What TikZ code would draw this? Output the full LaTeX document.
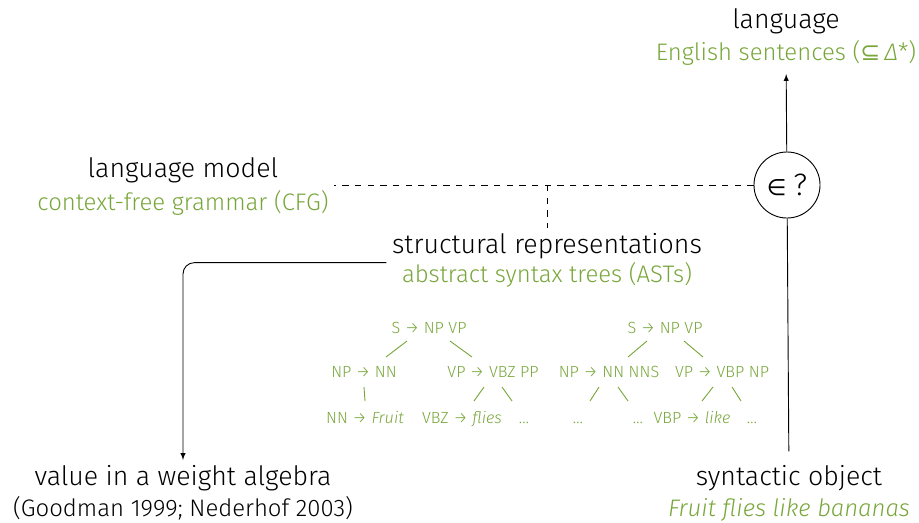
\documentclass[tikz,border=0pt]{standalone}
\usepackage{fontspec}
\setmainfont{Fira Sans Light}[ItalicFont={Fira Sans Light Italic}]
\newfontfamily\symbfont{DejaVu Sans}
\usetikzlibrary{calc,positioning}
\definecolor{cfggreen}{RGB}{120,166,58}

\begin{document}
\begin{tikzpicture}
[x=0.025cm,y=-0.025cm,>=latex,
  headdecorate/.style={anchor=base,font=\fontsize{19}{23}\selectfont},%
  subdecorate/.style={anchor=base,font=\fontsize{17}{21}\selectfont},%
  greendecorate/.style={subdecorate,text=cfggreen},%
  treedecorate/.style={anchor=base,inner sep=0pt,text=cfggreen,font=\fontsize{11.5}{14}\selectfont},%
  linedecorate/.style={line width=0.65pt},%
  dashdecorate/.style={line width=0.65pt,dash pattern=on 4.5pt off 4.5pt},%
  edgedecorate/.style={draw=cfggreen,line width=0.65pt}]
\useasboundingbox (0,0) rectangle (919,522);
%% labels, one node per line
\foreach \nodename/\x/\y/\kind/\label in {
  lang/786/28.5/head/{language},
  langsub/786/60/green/{English sentences ({\symbfont ⊆}\,\textit{Δ}*)},
  model/183/177.5/head/{language model},
  modelsub/183/210/green/{context-free grammar (CFG)},
  repr/547/253.5/head/{structural representations},
  reprsub/547/282.5/green/{abstract syntax trees (ASTs)},
  value/183/485/head/{value in a weight algebra},
  valuesub/183/516/sub/{(Goodman 1999; Nederhof 2003)},
  object/789/485/head/{syntactic object},
  objectsub/789/516/green/{\itshape Fruit flies like bananas}}
{
  \node[\kind decorate] (\nodename) at (\x,\y) {\label};
}
\node[draw,circle,line width=0.65pt,minimum size=1.65cm,inner sep=0pt]
  (member) at (787,185) {{\symbfont\fontsize{16}{16}\selectfont ∈}\hspace{5pt}{\fontsize{22}{22}\selectfont ?}};
%% the two trees
\foreach \nodename/\x/\y/\rule in {
  s1/429/333/{S → NP VP}, np1/364/377/{NP → NN}, vp1/493/377/{VP → VBZ PP},
  nn1/365/423/{NN → \textit{Fruit}}, vbz1/462/423/{VBZ → \textit{flies}},
  dots1/524/423/{…},
  s2/665/333/{S → NP VP}, np2/609/377/{NP → NN NNS}, vp2/722/377/{VP → VBP NP},
  dots2/578/423/{…}, dots3/638/423/{…}, vbp2/692/423/{VBP → \textit{like}},
  dots4/752/423/{…}}
{
  \node[treedecorate] (\nodename) at (\x,\y) {\rule};
}
\foreach \startnode/\sx/\sy/\endnode/\ex/\ey in {
  s1/-22/8/np1/22/-20, s1/21/8/vp1/-21/-20, np1/0/10/nn1/0/-22,
  vp1/-9/10/vbz1/12/-22, vp1/9/10/dots1/-12/-22,
  s2/-18/8/np2/19/-20, s2/19/8/vp2/-19/-20,
  np2/-10/10/dots2/12/-22, np2/9/10/dots3/-10/-22,
  vp2/-9/10/vbp2/10/-22, vp2/10/10/dots4/-11/-22}
{
  \draw[edgedecorate] ($(\startnode.base)+(\sx,\sy)$) -- ($(\endnode.base)+(\ex,\ey)$);
}
%% connectors
\coordinate (reprleft) at ($(repr.west)!0.5!(reprsub.west)$);
\draw[linedecorate,->,shorten >=3pt] (member) -- (langsub);
\draw[linedecorate,shorten >=6pt] (member) -- (object);
\draw[dashdecorate] (member.west) -- (member.west -| modelsub.east);
\draw[dashdecorate] (repr.north |- member) -- (repr.north);
\draw[linedecorate,->,rounded corners=8pt] ([xshift=-4pt,yshift=-1.5pt]reprleft) -| (value.north);
\end{tikzpicture}
\end{document}
